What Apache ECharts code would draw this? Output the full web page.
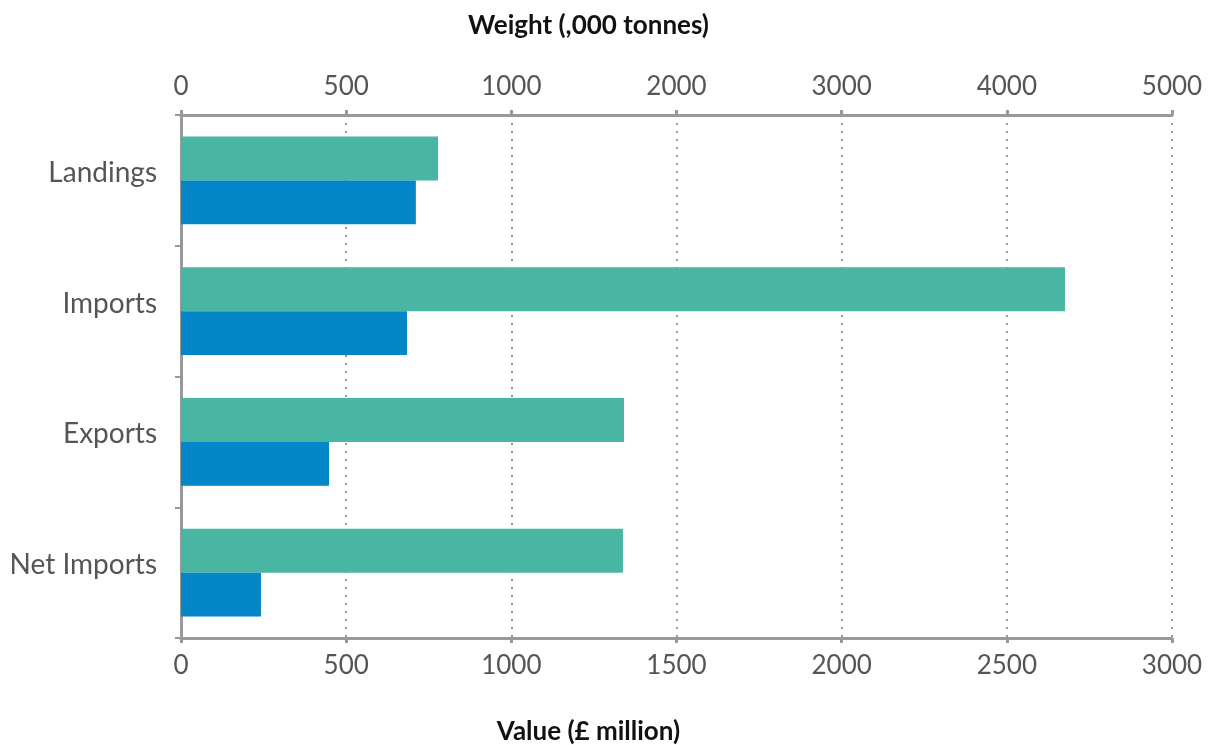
<!DOCTYPE html>
<html>
<head>
<meta charset="utf-8">
<script src="https://cdn.jsdelivr.net/npm/echarts@6/dist/echarts.min.js"></script>
<style>
html,body{margin:0;padding:0;background:#fff;}
#chart{width:1215px;height:745px;}
</style>
</head>
<body>
<div id="chart"></div>
<script>
const categories = ['Landings', 'Imports', 'Exports', 'Net Imports'];
const weightValues = [778, 2676, 1341, 1338];
const valueValues = [711, 684, 448, 242];
const topTickLabels = ['0', '500', '1000', '2000', '3000', '4000', '5000'];
const bottomTickLabels = ['0', '500', '1000', '1500', '2000', '2500', '3000'];

const chart = echarts.init(document.getElementById('chart'));
const axisLineStyle = { color: '#999999', width: 3 };
const labelStyle = { color: '#555555', fontSize: 26, fontFamily: 'Lato' };
const nameStyle = { color: '#111111', fontSize: 26, fontWeight: 'bold', fontFamily: 'Lato', padding: [0, 176, 0, 0] };

chart.setOption({
  animation: false,
  grid: { left: 181, right: 43, top: 115, bottom: 107, containLabel: false, outerBoundsMode: 'none' },
  xAxis: [
    {
      type: 'value', position: 'bottom', min: 0, max: 3000, interval: 500,
      name: 'Value (£ million)', nameLocation: 'middle', nameGap: 81, nameTextStyle: nameStyle,
      axisLine: { show: true, lineStyle: axisLineStyle },
      axisTick: { show: true, length: 5, lineStyle: { color: '#999999', width: 3 } },
      axisLabel: Object.assign({ margin: 15, formatter: (v) => bottomTickLabels[Math.round(v / 500)] }, labelStyle),
      splitLine: { show: true, lineStyle: { color: '#999999', width: 2, type: [2, 6] } }
    },
    {
      type: 'value', position: 'top', min: 0, max: 3000, interval: 500,
      name: 'Weight (,000 tonnes)', nameLocation: 'middle', nameGap: 76, nameTextStyle: nameStyle,
      axisLine: { show: true, lineStyle: axisLineStyle },
      axisTick: { show: true, length: 5, lineStyle: { color: '#999999', width: 3 } },
      axisLabel: Object.assign({ margin: 15, formatter: (v) => topTickLabels[Math.round(v / 500)] }, labelStyle),
      splitLine: { show: false }
    }
  ],
  yAxis: {
    type: 'category', data: categories, inverse: true,
    axisLine: { show: true, lineStyle: axisLineStyle },
    axisTick: { show: true, length: 6, lineStyle: { color: '#999999', width: 2 } },
    axisLabel: {
      margin: 24,
      formatter: (v) => '{c|' + v + '}',
      rich: { c: { color: '#555555', fontSize: 28, fontFamily: 'Lato', padding: [0, 0, 15, 0] } }
    }
  },
  series: [
    {
      name: 'Weight', type: 'bar', xAxisIndex: 0, data: weightValues,
      itemStyle: { color: '#48b6a2' }, barGap: '0%', barCategoryGap: '33%'
    },
    {
      name: 'Value', type: 'bar', xAxisIndex: 0, data: valueValues,
      itemStyle: { color: '#0386c8' }, barGap: '0%', barCategoryGap: '33%'
    }
  ]
});
</script>
</body>
</html>
